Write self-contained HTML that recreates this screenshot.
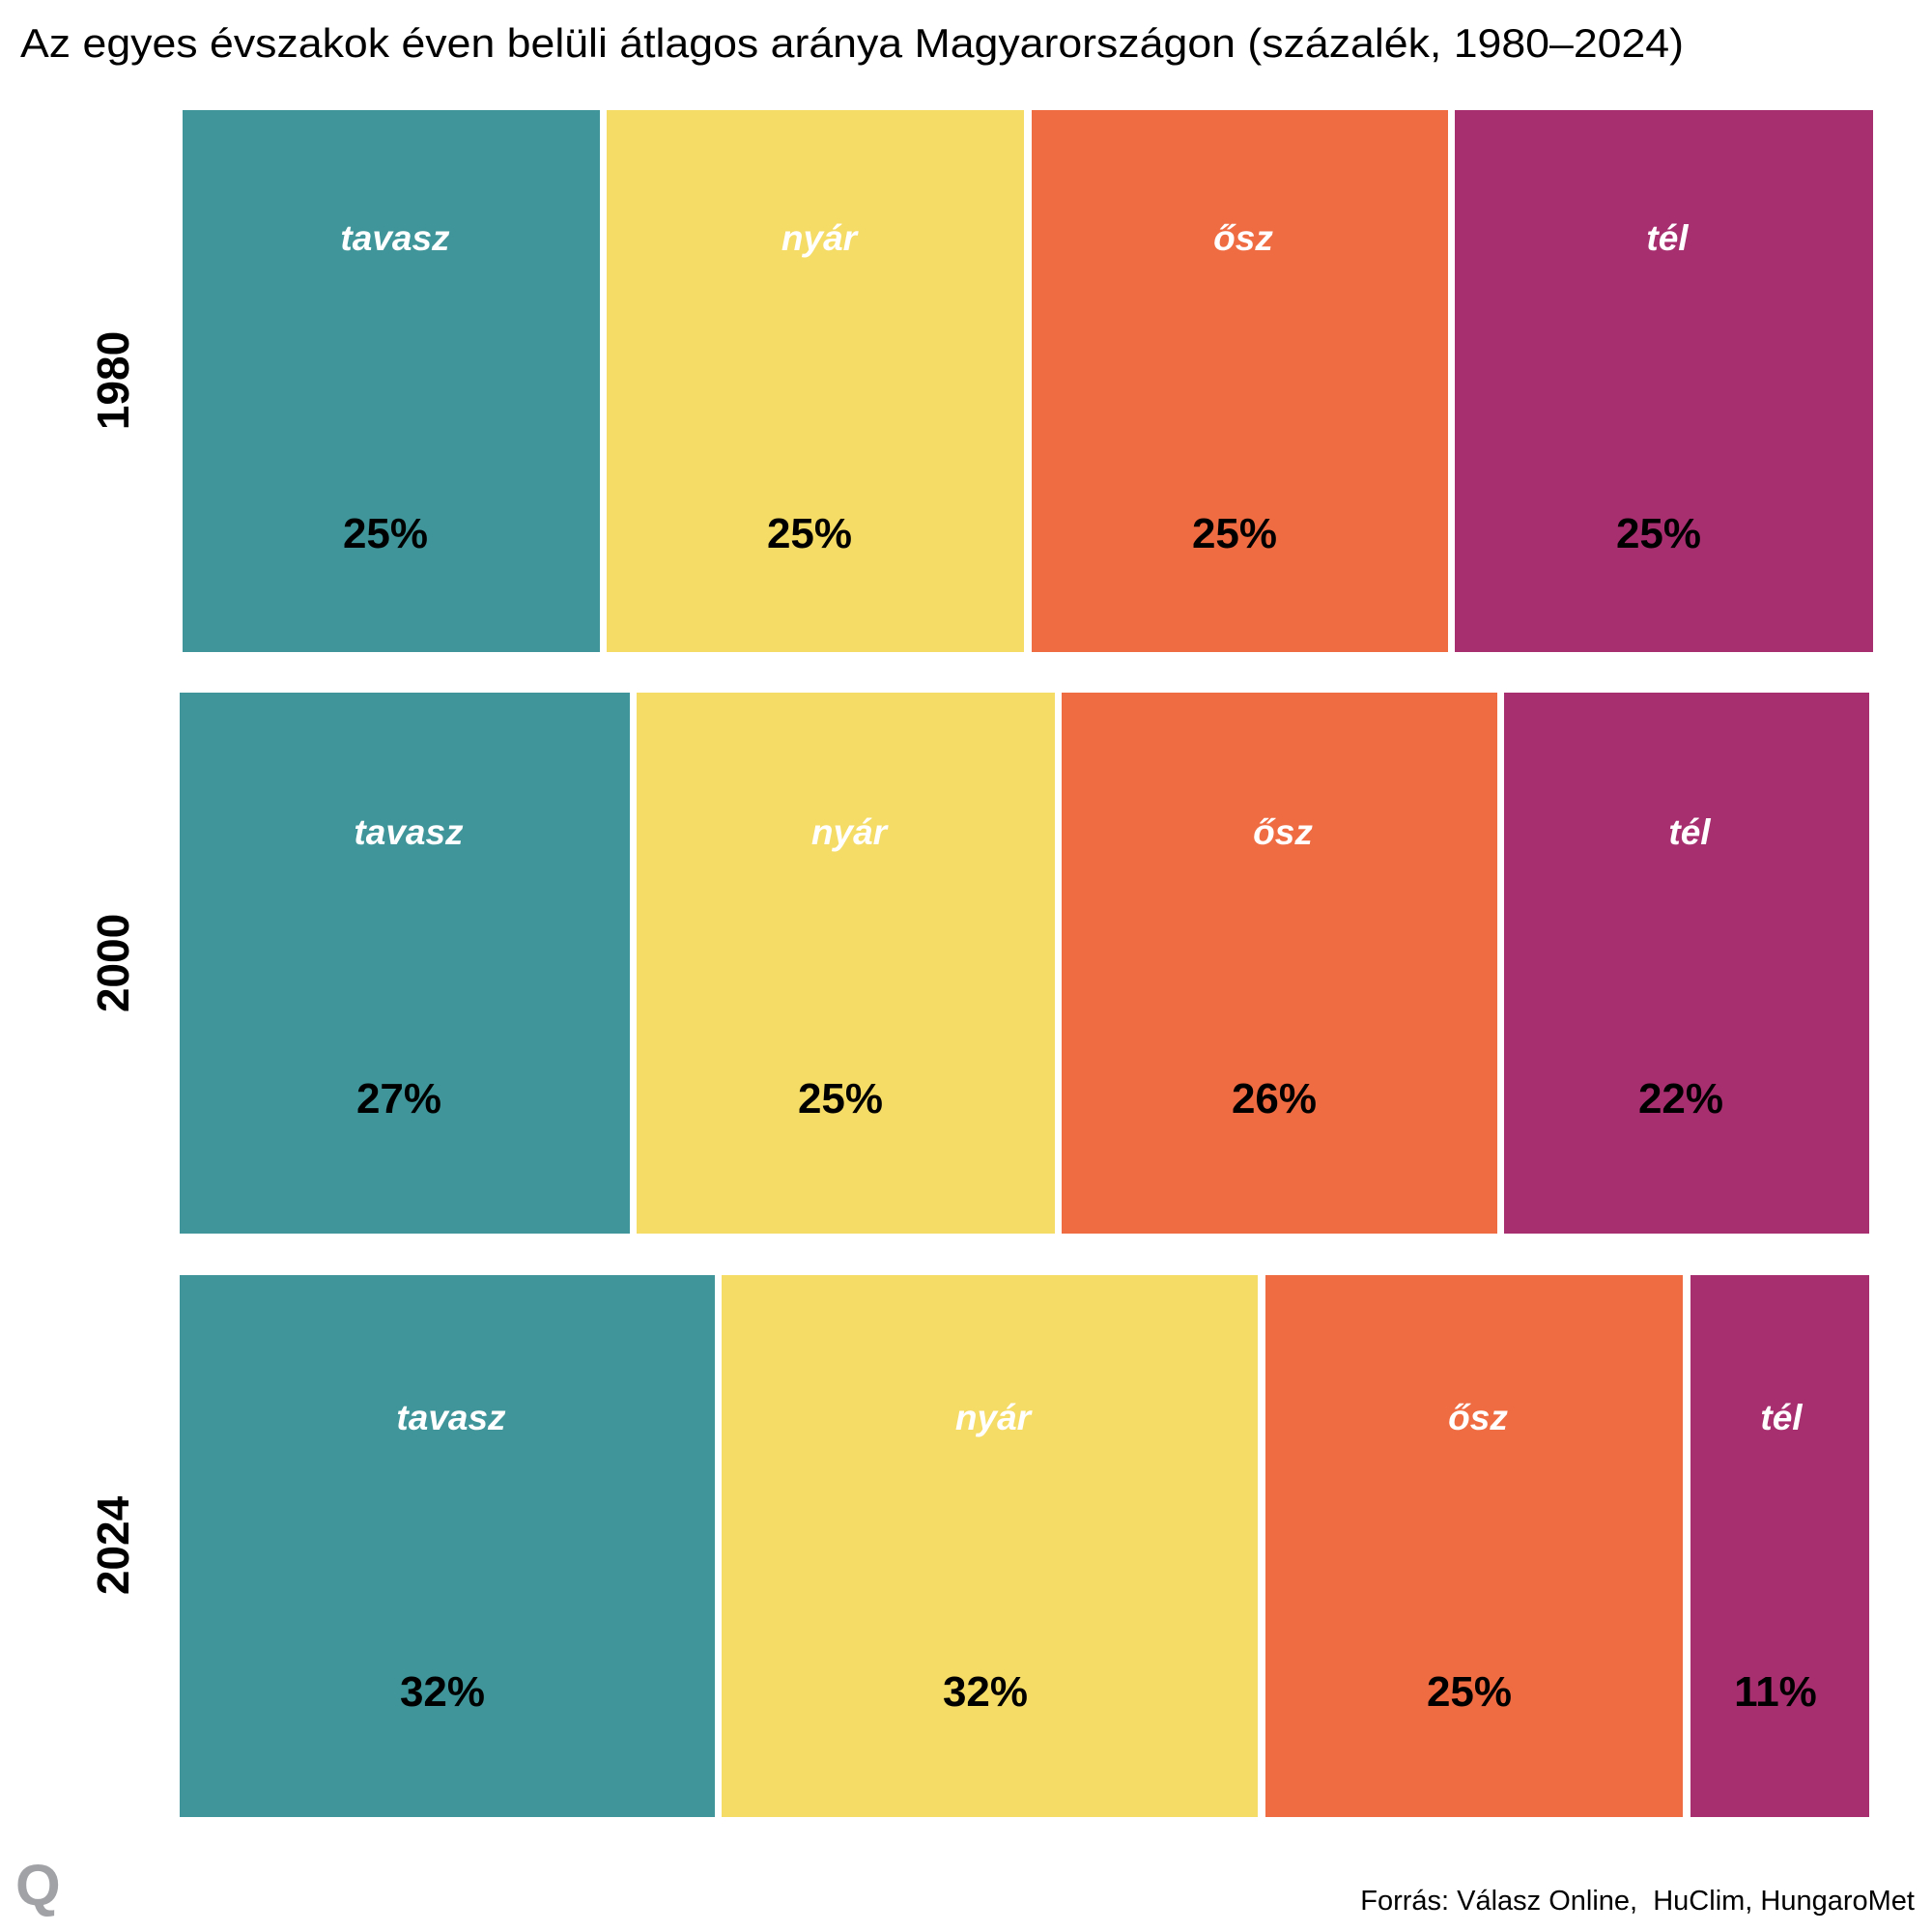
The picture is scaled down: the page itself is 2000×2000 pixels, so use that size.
<!DOCTYPE html>
<html><head><meta charset="utf-8"><style>
html,body{margin:0;padding:0;background:#fff;}
svg{display:block;}
text{font-family:"Liberation Sans",Arial,sans-serif;}
.l{fill:#fff;font-weight:bold;font-style:italic;font-size:37px;text-anchor:middle;}
.p{fill:#000;font-weight:bold;font-size:44px;text-anchor:middle;}
.y{fill:#000;font-weight:bold;font-size:46px;text-anchor:middle;}
</style></head><body>
<svg width="2000" height="2000" viewBox="0 0 2000 2000" xmlns="http://www.w3.org/2000/svg">
<rect width="2000" height="2000" fill="#fff"/>
<text x="21" y="59" font-size="42" fill="#000" textLength="1722" lengthAdjust="spacingAndGlyphs">Az egyes évszakok éven belüli átlagos aránya Magyarországon (százalék, 1980–2024)</text>

<rect x="189" y="114" width="432" height="561" fill="#3f9599"/>
<rect x="628" y="114" width="432" height="561" fill="#f5dc67"/>
<rect x="1068" y="114" width="431" height="561" fill="#ef6b42"/>
<rect x="1506" y="114" width="433" height="561" fill="#a72e6f"/>
<text class="l" x="409" y="259">tavasz</text>
<text class="l" x="848" y="259">nyár</text>
<text class="l" x="1287" y="259">ősz</text>
<text class="l" x="1726" y="259">tél</text>
<text class="p" x="399" y="567">25%</text>
<text class="p" x="838" y="567">25%</text>
<text class="p" x="1278" y="567">25%</text>
<text class="p" x="1717" y="567">25%</text>
<text class="y" transform="translate(133,394) rotate(-90)">1980</text>

<rect x="186" y="717" width="466" height="560" fill="#3f9599"/>
<rect x="659" y="717" width="433" height="560" fill="#f5dc67"/>
<rect x="1099" y="717" width="451" height="560" fill="#ef6b42"/>
<rect x="1557" y="717" width="378" height="560" fill="#a72e6f"/>
<text class="l" x="423" y="874">tavasz</text>
<text class="l" x="879" y="874">nyár</text>
<text class="l" x="1328" y="874">ősz</text>
<text class="l" x="1749" y="874">tél</text>
<text class="p" x="413" y="1152">27%</text>
<text class="p" x="870" y="1152">25%</text>
<text class="p" x="1319" y="1152">26%</text>
<text class="p" x="1740" y="1152">22%</text>
<text class="y" transform="translate(133,997) rotate(-90)">2000</text>

<rect x="186" y="1320" width="554" height="561" fill="#3f9599"/>
<rect x="747" y="1320" width="555" height="561" fill="#f5dc67"/>
<rect x="1310" y="1320" width="432" height="561" fill="#ef6b42"/>
<rect x="1750" y="1320" width="185" height="561" fill="#a72e6f"/>
<text class="l" x="467" y="1480">tavasz</text>
<text class="l" x="1028" y="1480">nyár</text>
<text class="l" x="1530" y="1480">ősz</text>
<text class="l" x="1844" y="1480">tél</text>
<text class="p" x="458" y="1766">32%</text>
<text class="p" x="1020" y="1766">32%</text>
<text class="p" x="1521" y="1766">25%</text>
<text class="p" x="1838" y="1766">11%</text>
<text class="y" transform="translate(133,1600) rotate(-90)">2024</text>

<text x="16" y="1972" font-size="60" font-weight="bold" fill="#a0a2a6">Q</text>
<text x="1982" y="1977" font-size="29" fill="#000" text-anchor="end">Forrás: Válasz Online,&#160; HuClim, HungaroMet</text>
</svg>
</body></html>
